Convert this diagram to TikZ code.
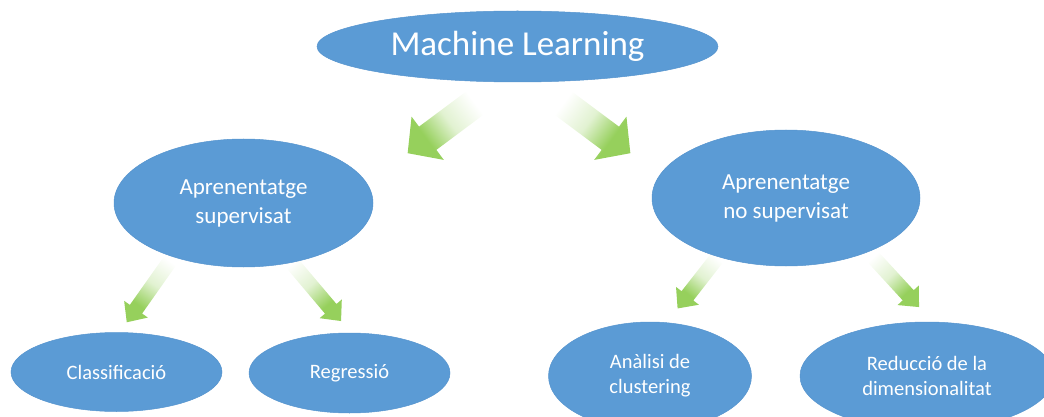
\documentclass[tikz,border=0pt]{standalone}
\usepackage{fontspec}
\setmainfont{Carlito}
\usetikzlibrary{shapes.geometric}

\definecolor{nodeblue}{HTML}{5B9BD5}
\definecolor{nodeedge}{HTML}{5694CE}
\definecolor{agreen}{RGB}{150,208,92}
\colorlet{agreenlight}{agreen!28!white}

% white tail fading into a solid green head
\pgfdeclarehorizontalshading{arrowfade}{100bp}{%
  color(0bp)=(white); color(25bp)=(white); color(44bp)=(agreenlight);
  color(61bp)=(agreen); color(100bp)=(agreen)}

% block arrow: #1 tail coordinate, #2 direction (deg), #3 length,
% #4 half shaft width, #5 half head width, #6 head length
\newcommand\fadearrow[6]{%
  \begin{scope}[transform canvas={shift={(#1)}, rotate=#2}]
    \shade[shading=arrowfade]
      (0,-#4) -- ({#3-#6},-#4) -- ({#3-#6},-#5) -- (#3,0)
      -- ({#3-#6},#5) -- ({#3-#6},#4) -- (0,#4) -- cycle;
  \end{scope}}

\tikzset{
  bubble/.style={ellipse, fill=nodeblue, draw=nodeedge, line width=0.5pt,
    inner sep=0pt, text=white, align=center},
  topfont/.style={font=\fontsize{35}{42}\selectfont},
  midfont/.style={font=\fontsize{23}{29}\selectfont},
  lowfont/.style={font=\fontsize{20.5}{25}\selectfont},
}

\begin{document}
\begin{tikzpicture}[x=1pt, y=-1pt]
  \useasboundingbox (0,0) rectangle (1044,417);
  \clip (0,0) rectangle (1044,417);

  % arrow tails
  \coordinate (tMLa) at (475,103);
  \coordinate (tMLb) at (563,103);
  \coordinate (tSa) at (170,261);
  \coordinate (tSb) at (292,263);
  \coordinate (tNa) at (717,258);
  \coordinate (tNb) at (873,257);

  \fadearrow{tMLa}{216.7}{84}{14.5}{27}{25}
  \fadearrow{tMLb}{-36.7}{84}{14.5}{27}{25}
  \fadearrow{tSa}{234.8}{75}{7.5}{14.5}{16}
  \fadearrow{tSb}{-49.8}{76}{7.5}{14.5}{16}
  \fadearrow{tNa}{232}{64}{7.5}{14.5}{16}
  \fadearrow{tNb}{-47.4}{68}{7.5}{14.5}{16}

  % concept bubbles
  \node[bubble, topfont, minimum width=401pt, minimum height=71pt]
    (ml) at (517.5,46.5) {Machine Learning};

  \node[bubble, midfont, minimum width=259pt, minimum height=128pt]
    (sup) at (243.5,203) {Aprenentatge\\supervisat};
  \node[bubble, midfont, minimum width=268pt, minimum height=136pt]
    (nosup) at (786,198) {Aprenentatge\\no supervisat};

  \node[bubble, lowfont, minimum width=211pt, minimum height=79pt]
    (cls) at (116.5,372) {Classificació};
  \node[bubble, lowfont, minimum width=201pt, minimum height=80pt]
    (reg) at (349.5,373) {Regressió};
  \node[bubble, lowfont, minimum width=203pt, minimum height=108pt]
    (clu) at (650,376) {Anàlisi de\\clustering};
  \node[bubble, lowfont, minimum width=254pt, minimum height=108pt]
    (dim) at (927,376) {Reducció de la\\dimensionalitat};
\end{tikzpicture}
\end{document}
